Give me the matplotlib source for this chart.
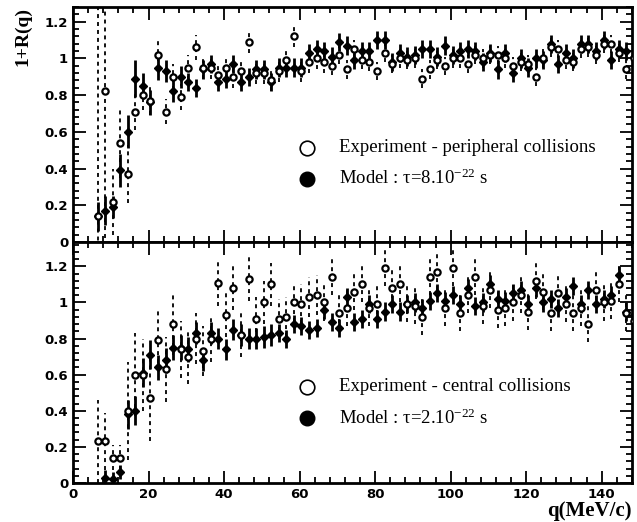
import matplotlib

matplotlib.use("Agg")
import matplotlib.pyplot as plt
import numpy as np
from matplotlib.ticker import MultipleLocator, FuncFormatter

# bin centres in q (MeV/c)
q = [6.5, 8.5, 10.5, 12.5, 14.5, 16.5, 18.5, 20.5, 22.5, 24.5, 26.5, 28.5,
     30.5, 32.5, 34.5, 36.5, 38.5, 40.5, 42.5, 44.5, 46.5, 48.5, 50.5, 52.5,
     54.5, 56.5, 58.5, 60.5, 62.5, 64.5, 66.5, 68.5, 70.5, 72.5, 74.5, 76.5,
     78.5, 80.5, 82.5, 84.5, 86.5, 88.5, 90.5, 92.5, 94.5, 96.5, 98.5, 100.5,
     102.5, 104.5, 106.5, 108.5, 110.5, 112.5, 114.5, 116.5, 118.5, 120.5,
     122.5, 124.5, 126.5, 128.5, 130.5, 132.5, 134.5, 136.5, 138.5, 140.5,
     142.5, 144.5, 146.5, 148.5]

# peripheral collisions (top panel)
periph_exp = [0.14, 0.82, 0.22, 0.54, 0.37, 0.71, 0.80, 0.77, 1.02, 0.71, 0.90, 0.79,
              0.95, 1.06, 0.95, 0.95, 0.91, 0.95, 0.90, 0.93, 1.09, 0.92, 0.92, 0.88,
              0.93, 0.99, 1.12, 0.93, 0.98, 1.00, 0.98, 0.96, 1.02, 0.94, 1.05, 0.99,
              0.98, 0.93, 1.03, 0.97, 1.00, 0.99, 1.00, 0.89, 0.94, 0.99, 0.96, 1.00,
              1.00, 0.97, 1.02, 1.00, 1.02, 1.02, 1.00, 0.96, 0.98, 0.97, 0.90, 1.00,
              1.06, 1.05, 0.99, 0.98, 1.05, 1.06, 1.02, 1.08, 1.08, 1.03, 0.94, 1.00]
periph_exp_err = [1.30, 0.80, 0.18, 0.19, 0.16, 0.10, 0.08, 0.08, 0.08, 0.07, 0.07, 0.07,
                  0.07, 0.07, 0.06, 0.06, 0.06, 0.06, 0.06, 0.06, 0.06, 0.06, 0.06, 0.06,
                  0.06, 0.06, 0.06, 0.06, 0.06, 0.06, 0.06, 0.05, 0.05, 0.05, 0.05, 0.05,
                  0.05, 0.05, 0.05, 0.05, 0.05, 0.05, 0.05, 0.05, 0.05, 0.05, 0.05, 0.05,
                  0.05, 0.05, 0.05, 0.05, 0.05, 0.05, 0.05, 0.05, 0.05, 0.05, 0.05, 0.05,
                  0.05, 0.05, 0.05, 0.05, 0.05, 0.05, 0.05, 0.05, 0.05, 0.05, 0.05, 0.05]
periph_mod = [0.14, 0.17, 0.19, 0.39, 0.60, 0.89, 0.85, 0.76, 0.95, 0.93, 0.82, 0.90,
              0.87, 0.84, 0.94, 0.97, 0.87, 0.89, 0.97, 0.87, 0.90, 0.94, 0.94, 0.87,
              0.95, 0.95, 0.95, 0.95, 1.03, 1.05, 1.04, 1.01, 1.09, 1.07, 0.99, 1.04,
              1.04, 1.10, 1.10, 0.98, 1.03, 1.01, 1.02, 1.05, 1.05, 1.01, 1.07, 1.02,
              1.04, 1.05, 1.04, 0.98, 1.03, 0.94, 1.03, 0.92, 1.00, 0.95, 1.00, 0.99,
              1.08, 0.97, 1.03, 1.00, 1.08, 1.08, 1.04, 1.10, 0.99, 1.05, 1.04, 1.01]
periph_mod_err = [0.08, 0.08, 0.06, 0.09, 0.09, 0.10, 0.07, 0.07, 0.07, 0.06, 0.06, 0.06,
                  0.05, 0.05, 0.05, 0.05, 0.05, 0.05, 0.05, 0.05, 0.05, 0.05, 0.05, 0.05,
                  0.05, 0.05, 0.05, 0.05, 0.05, 0.05, 0.05, 0.05, 0.05, 0.05, 0.05, 0.05,
                  0.05, 0.05, 0.05, 0.05, 0.05, 0.05, 0.05, 0.05, 0.05, 0.05, 0.05, 0.05,
                  0.05, 0.05, 0.05, 0.05, 0.05, 0.05, 0.05, 0.05, 0.05, 0.05, 0.05, 0.05,
                  0.05, 0.05, 0.05, 0.05, 0.05, 0.05, 0.05, 0.05, 0.05, 0.05, 0.05, 0.05]

# central collisions (bottom panel)
central_exp = [0.23, 0.23, 0.14, 0.14, 0.40, 0.60, 0.60, 0.47, 0.79, 0.63, 0.88, 0.74,
               0.70, 0.80, 0.73, 0.80, 1.11, 0.93, 1.08, 0.82, 1.13, 0.91, 1.00, 1.10,
               0.91, 0.92, 1.00, 0.99, 1.03, 1.04, 1.00, 1.14, 0.94, 0.97, 1.06, 1.10,
               0.97, 0.99, 1.19, 1.08, 1.10, 0.99, 0.98, 0.92, 1.14, 1.17, 0.97, 1.19,
               0.94, 1.04, 1.14, 0.98, 1.07, 0.96, 0.97, 1.00, 1.04, 0.95, 1.12, 1.06,
               0.94, 1.05, 0.99, 0.94, 0.97, 0.88, 1.07, 1.00, 1.01, 1.10, 0.94, 0.90]
central_exp_err = [0.23, 0.16, 0.07, 0.07, 0.27, 0.23, 0.20, 0.24, 0.17, 0.18, 0.17, 0.16,
                   0.15, 0.14, 0.14, 0.13, 0.13, 0.12, 0.12, 0.12, 0.12, 0.12, 0.12, 0.12,
                   0.11, 0.11, 0.11, 0.11, 0.11, 0.11, 0.10, 0.10, 0.10, 0.10, 0.10, 0.10,
                   0.10, 0.10, 0.10, 0.10, 0.10, 0.10, 0.10, 0.10, 0.10, 0.10, 0.10, 0.10,
                   0.10, 0.10, 0.10, 0.10, 0.10, 0.10, 0.10, 0.10, 0.10, 0.10, 0.10, 0.10,
                   0.10, 0.10, 0.10, 0.10, 0.10, 0.10, 0.10, 0.10, 0.10, 0.10, 0.10, 0.10]
central_mod = [np.nan, 0.03, 0.02, 0.06, 0.38, 0.40, 0.61, 0.71, 0.64, 0.68, 0.75, 0.75,
               0.74, 0.83, 0.68, 0.83, 0.80, 0.74, 0.85, 0.82, 0.80, 0.80, 0.81, 0.82,
               0.83, 0.80, 0.88, 0.87, 0.85, 0.86, 0.96, 0.89, 0.86, 1.03, 0.89, 0.91,
               0.99, 0.91, 0.95, 0.99, 0.95, 0.99, 1.00, 0.97, 1.01, 1.05, 1.01, 1.04,
               0.99, 1.08, 0.98, 1.00, 1.10, 1.02, 1.01, 1.05, 1.07, 0.99, 1.08, 1.00,
               1.02, 0.97, 1.03, 1.09, 0.99, 1.07, 0.99, 1.02, 1.04, 1.15, 0.95, 0.93]
central_mod_err = [0.04, 0.04, 0.04, 0.04, 0.08, 0.08, 0.08, 0.08, 0.07, 0.07, 0.07, 0.07,
                   0.07, 0.06, 0.06, 0.06, 0.06, 0.06, 0.06, 0.06, 0.06, 0.06, 0.06, 0.06,
                   0.05, 0.05, 0.05, 0.05, 0.05, 0.05, 0.05, 0.05, 0.05, 0.05, 0.05, 0.05,
                   0.05, 0.05, 0.05, 0.05, 0.05, 0.05, 0.05, 0.05, 0.05, 0.05, 0.05, 0.05,
                   0.05, 0.05, 0.05, 0.05, 0.05, 0.05, 0.05, 0.05, 0.05, 0.05, 0.05, 0.05,
                   0.05, 0.05, 0.05, 0.05, 0.05, 0.05, 0.05, 0.05, 0.05, 0.05, 0.05, 0.05]

legend_top = ["Experiment - peripheral collisions", "Model : τ=8.10$^{-22}$ s"]
legend_bot = ["Experiment - central collisions", "Model : τ=2.10$^{-22}$ s"]

plt.rcParams["mathtext.fontset"] = "custom"
plt.rcParams["mathtext.rm"] = "Liberation Serif"
plt.rcParams["mathtext.it"] = "Liberation Serif:italic"
plt.rcParams["mathtext.default"] = "regular"

fig = plt.figure(figsize=(6.37, 5.22), dpi=100)
ax_top = fig.add_axes([0.1146, 0.5364, 0.8774, 0.4502])
ax_bot = fig.add_axes([0.1146, 0.0747, 0.8774, 0.4617])

tick_font = {"family": "DejaVu Sans", "weight": "bold", "size": 9.5}


def fmt(v, _pos):
    if abs(v) < 1e-9:
        return "0"
    if abs(v - 1) < 1e-9:
        return "1"
    return f"{v:.1f}"


def draw_panel(ax, exp, exp_err, mod, mod_err, ymax, labels):
    e = ax.errorbar(q, exp, yerr=exp_err, fmt="none", ecolor="black",
                    elinewidth=1.3, capsize=0, zorder=2)
    for lc in e[2]:
        lc.set_linestyle((0, (2.2, 2.2)))
    ax.errorbar(q, mod, yerr=mod_err, fmt="none", ecolor="black",
                elinewidth=2.0, capsize=0, zorder=3)
    ax.plot(q, mod, linestyle="none", marker="D", markersize=4.5,
            color="black", zorder=4)
    ax.plot(q, exp, linestyle="none", marker="o", markersize=4.5,
            markerfacecolor="white", markeredgecolor="black",
            markeredgewidth=1.6, zorder=5)

    ax.set_xlim(0, 148)
    ax.set_ylim(0, ymax)
    ax.xaxis.set_major_locator(MultipleLocator(20))
    ax.xaxis.set_minor_locator(MultipleLocator(4))
    ax.yaxis.set_major_locator(MultipleLocator(0.2))
    ax.yaxis.set_minor_locator(MultipleLocator(0.04))
    ax.yaxis.set_major_formatter(FuncFormatter(fmt))
    ax.tick_params(which="both", direction="in", top=True, right=True,
                   width=1.3, colors="black")
    ax.tick_params(which="major", length=9)
    ax.tick_params(which="minor", length=4.5)
    for sp in ax.spines.values():
        sp.set_linewidth(2.0)
    for lab in ax.get_yticklabels():
        lab.set_fontfamily(tick_font["family"])
        lab.set_fontweight(tick_font["weight"])
        lab.set_fontsize(tick_font["size"])

    # legend symbols and texts
    ax.plot(0.419, 0.40, marker="o", markersize=10.5, markerfacecolor="white",
            markeredgecolor="black", markeredgewidth=1.2,
            transform=ax.transAxes, clip_on=False)
    ax.plot(0.419, 0.27, marker="o", markersize=10.5, color="black",
            transform=ax.transAxes, clip_on=False)
    ax.text(0.476, 0.40, labels[0], transform=ax.transAxes, va="center",
            ha="left", family="Liberation Serif", fontsize=13.5)
    ax.text(0.476, 0.27, labels[1], transform=ax.transAxes, va="center",
            ha="left", family="Liberation Serif", fontsize=13.5)


draw_panel(ax_top, periph_exp, periph_exp_err, periph_mod, periph_mod_err,
           1.28, legend_top)
draw_panel(ax_bot, central_exp, central_exp_err, central_mod, central_mod_err,
           1.335, legend_bot)

ax_top.tick_params(labelbottom=False)
for lab in ax_bot.get_xticklabels():
    lab.set_fontfamily(tick_font["family"])
    lab.set_fontweight(tick_font["weight"])
    lab.set_fontsize(tick_font["size"])

fig.text(0.035, 0.93, "1+R(q)", rotation=90, ha="center", va="center",
         family="Liberation Serif", fontweight="bold", fontsize=14)
fig.text(0.992, 0.002, "q(MeV/c)", ha="right", va="bottom",
         family="Liberation Serif", fontweight="bold", fontsize=15)

fig.savefig("out.png", dpi=100)
